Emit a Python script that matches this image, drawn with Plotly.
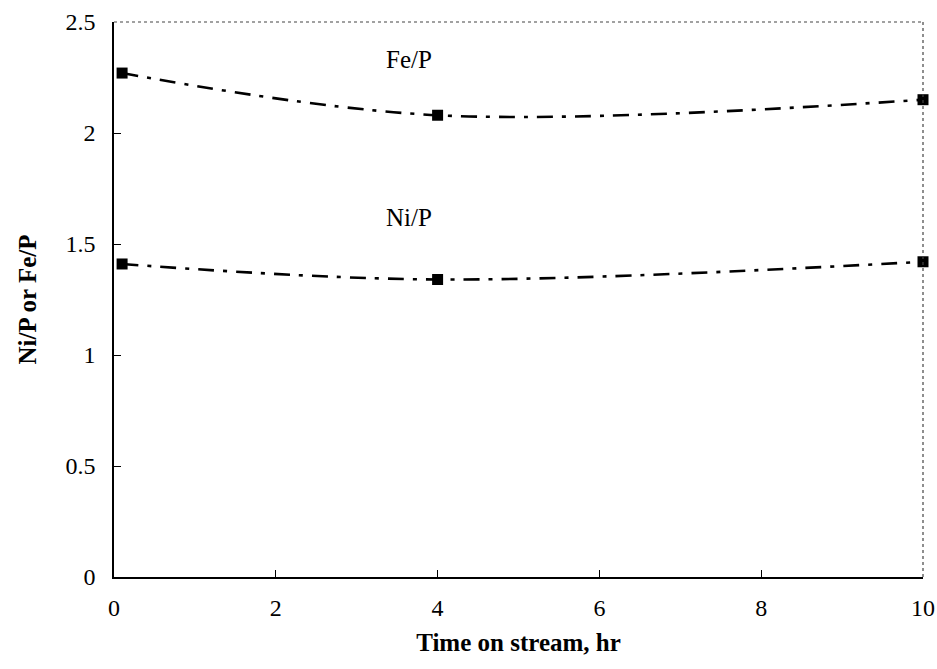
import plotly.graph_objects as go

time_hr = [0.1, 4, 10]
fe_p = [2.27, 2.08, 2.15]
ni_p = [1.41, 1.34, 1.42]

x_ticks = [0, 2, 4, 6, 8, 10]
y_ticks = [0, 0.5, 1, 1.5, 2, 2.5]
y_tick_text = ["0", "0.5", "1", "1.5", "2", "2.5"]

serif = "Liberation Serif, Times New Roman, serif"

fig = go.Figure()
for name, vals in [("Fe/P", fe_p), ("Ni/P", ni_p)]:
    fig.add_trace(go.Scatter(
        x=time_hr, y=vals, name=name, mode="lines+markers",
        line=dict(color="black", width=2.6, dash="16px,9px,4px,9px", shape="spline", smoothing=1.0),
        marker=dict(symbol="square", size=11, color="black"),
        showlegend=False, cliponaxis=False,
    ))

fig.add_annotation(x=3.65, y=2.33, text="Fe/P", showarrow=False,
                   font=dict(family=serif, size=25, color="black"))
fig.add_annotation(x=3.65, y=1.62, text="Ni/P", showarrow=False,
                   font=dict(family=serif, size=25, color="black"))

# dotted top and right frame
fig.add_shape(type="line", xref="paper", yref="paper", x0=0, x1=1, y0=1, y1=1,
              line=dict(color="#444", width=1.2, dash="dot"))
fig.add_shape(type="line", xref="paper", yref="paper", x0=1, x1=1, y0=0, y1=1,
              line=dict(color="#444", width=1.2, dash="dot"))

fig.update_layout(
    width=937, height=669,
    margin=dict(l=114, r=14, t=22, b=92, autoexpand=False),
    paper_bgcolor="white", plot_bgcolor="white",
    font=dict(family=serif, color="black"),
    xaxis=dict(
        range=[0, 10], tickvals=x_ticks, ticks="inside", ticklen=7, tickcolor="black",
        showline=True, linecolor="black", linewidth=1.5, showgrid=False, zeroline=False,
        automargin=False,
        tickfont=dict(family=serif, size=24, color="black"), ticklabelstandoff=8,
        title=dict(text="<b>Time on stream, hr</b>", font=dict(family=serif, size=25, color="black"), standoff=14),
    ),
    yaxis=dict(
        range=[0, 2.5], tickvals=y_ticks, ticktext=y_tick_text, ticks="inside", ticklen=7, tickcolor="black",
        showline=True, linecolor="black", linewidth=1.5, showgrid=False, zeroline=False,
        automargin=False,
        tickfont=dict(family=serif, size=24, color="black"), ticklabelstandoff=12,
        title=dict(text="<b>Ni/P or Fe/P</b>", font=dict(family=serif, size=25, color="black"), standoff=22),
    ),
)

fig.write_html("out.html")
